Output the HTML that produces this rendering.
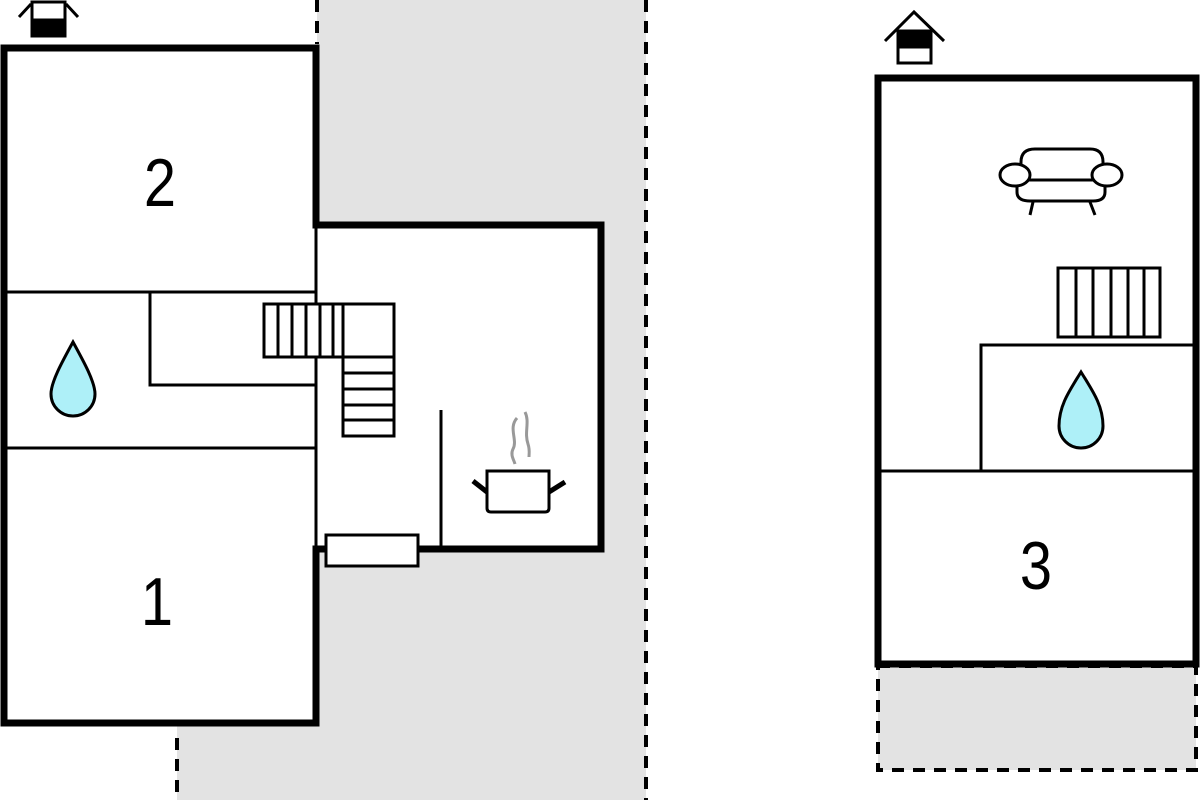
<!DOCTYPE html>
<html><head><style>html,body{margin:0;padding:0;background:#fff}svg{display:block}</style></head>
<body>
<svg width="1200" height="800" viewBox="0 0 1200 800" xmlns="http://www.w3.org/2000/svg">
<!-- left terrace -->
<polygon points="317,0 646,0 646,800 177,800 177,726 317,726" fill="#e3e3e3"/>
<line x1="646" y1="0" x2="646" y2="800" stroke="#000" stroke-width="4" stroke-dasharray="12,9"/>
<line x1="317" y1="0" x2="317" y2="44" stroke="#000" stroke-width="4" stroke-dasharray="12,9"/>
<line x1="177" y1="738" x2="177" y2="800" stroke="#000" stroke-width="4" stroke-dasharray="12,9"/>
<!-- interior fill -->
<polygon points="5,48 316,48 316,225 601,225 601,549 316,549 316,723 5,723" fill="#fff"/>
<!-- thin walls -->
<g stroke="#000" stroke-width="3" fill="none">
<line x1="5" y1="292" x2="316" y2="292"/>
<line x1="316" y1="222" x2="316" y2="549"/>
<polyline points="150,292 150,385 316,385"/>
<line x1="5" y1="448" x2="316" y2="448"/>
<line x1="441" y1="410" x2="441" y2="549"/>
</g>
<!-- thick walls -->
<g stroke="#000" stroke-width="7" fill="none" stroke-linecap="square">
<polyline points="316,222 316,48 4,48 4,723 316,723 316,549 326,549"/>
<polyline points="316,225 601,225 601,549 418,549"/>
</g>
<rect x="326" y="535" width="92" height="31" fill="#fff" stroke="#000" stroke-width="3"/>
<!-- stairs -->
<g stroke="#000" stroke-width="3" fill="#fff">
<rect x="264" y="304" width="130" height="53"/>
<rect x="343" y="357" width="51" height="79"/>
<line x1="278" y1="304" x2="278" y2="357"/><line x1="292" y1="304" x2="292" y2="357"/>
<line x1="306" y1="304" x2="306" y2="357"/><line x1="320" y1="304" x2="320" y2="357"/>
<line x1="333" y1="304" x2="333" y2="357"/><line x1="343" y1="304" x2="343" y2="357"/>
<line x1="343" y1="373" x2="394" y2="373"/><line x1="343" y1="389" x2="394" y2="389"/>
<line x1="343" y1="405" x2="394" y2="405"/><line x1="343" y1="420" x2="394" y2="420"/>
</g>
<!-- drop left -->
<path d="M73,342 C84,362 95,382 95,394 A22,22 0 0 1 51,394 C51,382 62,362 73,342 Z" fill="#aef0f8" stroke="#000" stroke-width="3"/>
<!-- pot -->
<g stroke="#000" fill="none">
<path d="M487,471 H549 V508 Q549,512 545,512 H491 Q487,512 487,508 Z" fill="#fff" stroke-width="3"/>
<line x1="473" y1="481" x2="487" y2="492" stroke-width="5"/>
<line x1="549" y1="492" x2="565" y2="482" stroke-width="5"/>
</g>
<g stroke="#999" stroke-width="3" fill="none">
<path d="M517,418 C508,428 518,440 513,449 C510,455 514,460 515,464"/>
<path d="M525,412 C530,422 524,432 528,444 C530,450 529,454 529,457"/>
</g>
<!-- entrance icon left -->
<g stroke="#000" stroke-width="3" fill="none">
<polyline points="19,17 31,4"/><polyline points="66,4 78,17"/>
<rect x="32" y="2" width="33" height="34" fill="#fff"/>
<rect x="32" y="20" width="33" height="16" fill="#000"/>
</g>
<text transform="translate(160,206) scale(0.85,1)" font-family="Liberation Sans, sans-serif" font-size="68" text-anchor="middle">2</text>
<text transform="translate(157,625) scale(0.85,1)" font-family="Liberation Sans, sans-serif" font-size="68" text-anchor="middle">1</text>

<!-- right plan -->
<rect x="878" y="666" width="318" height="104" fill="#e3e3e3" stroke="#000" stroke-width="4" stroke-dasharray="12,9"/>
<rect x="878" y="78" width="318" height="586" fill="#fff" stroke="#000" stroke-width="7"/>
<g stroke="#000" stroke-width="3" fill="none">
<line x1="878" y1="471" x2="1196" y2="471"/>
<polyline points="981,471 981,345 1196,345"/>
<rect x="1058" y="268" width="102" height="69" fill="#fff"/>
<line x1="1076" y1="268" x2="1076" y2="337"/><line x1="1093" y1="268" x2="1093" y2="337"/>
<line x1="1111" y1="268" x2="1111" y2="337"/><line x1="1128" y1="268" x2="1128" y2="337"/>
<line x1="1144" y1="268" x2="1144" y2="337"/>
</g>
<path d="M1081,372 C1092,390 1103,405 1103,426 A22,22 0 0 1 1059,426 C1059,405 1070,390 1081,372 Z" fill="#aef0f8" stroke="#000" stroke-width="3"/>
<!-- sofa -->
<g stroke="#000" stroke-width="3" fill="#fff">
<path d="M1017,180 V192 Q1017,201 1030,201 H1093 Q1105,201 1105,192 V180 Z"/>
<path d="M1021,180 V162 Q1021,149 1035,149 H1090 Q1103,149 1103,162 V180 Z"/>
<ellipse cx="1015" cy="175" rx="15" ry="11"/>
<ellipse cx="1107" cy="175" rx="15" ry="11"/>
<line x1="1033" y1="202" x2="1030" y2="215"/>
<line x1="1090" y1="202" x2="1095" y2="215"/>
</g>
<!-- entrance icon right -->
<g stroke="#000" stroke-width="3" fill="none">
<polyline points="885,41 914,12 944,41"/>
<rect x="898" y="31" width="33" height="32" fill="#fff"/>
<rect x="898" y="31" width="33" height="16" fill="#000"/>
</g>
<text transform="translate(1036,589) scale(0.85,1)" font-family="Liberation Sans, sans-serif" font-size="68" text-anchor="middle">3</text>
</svg>
</body></html>
